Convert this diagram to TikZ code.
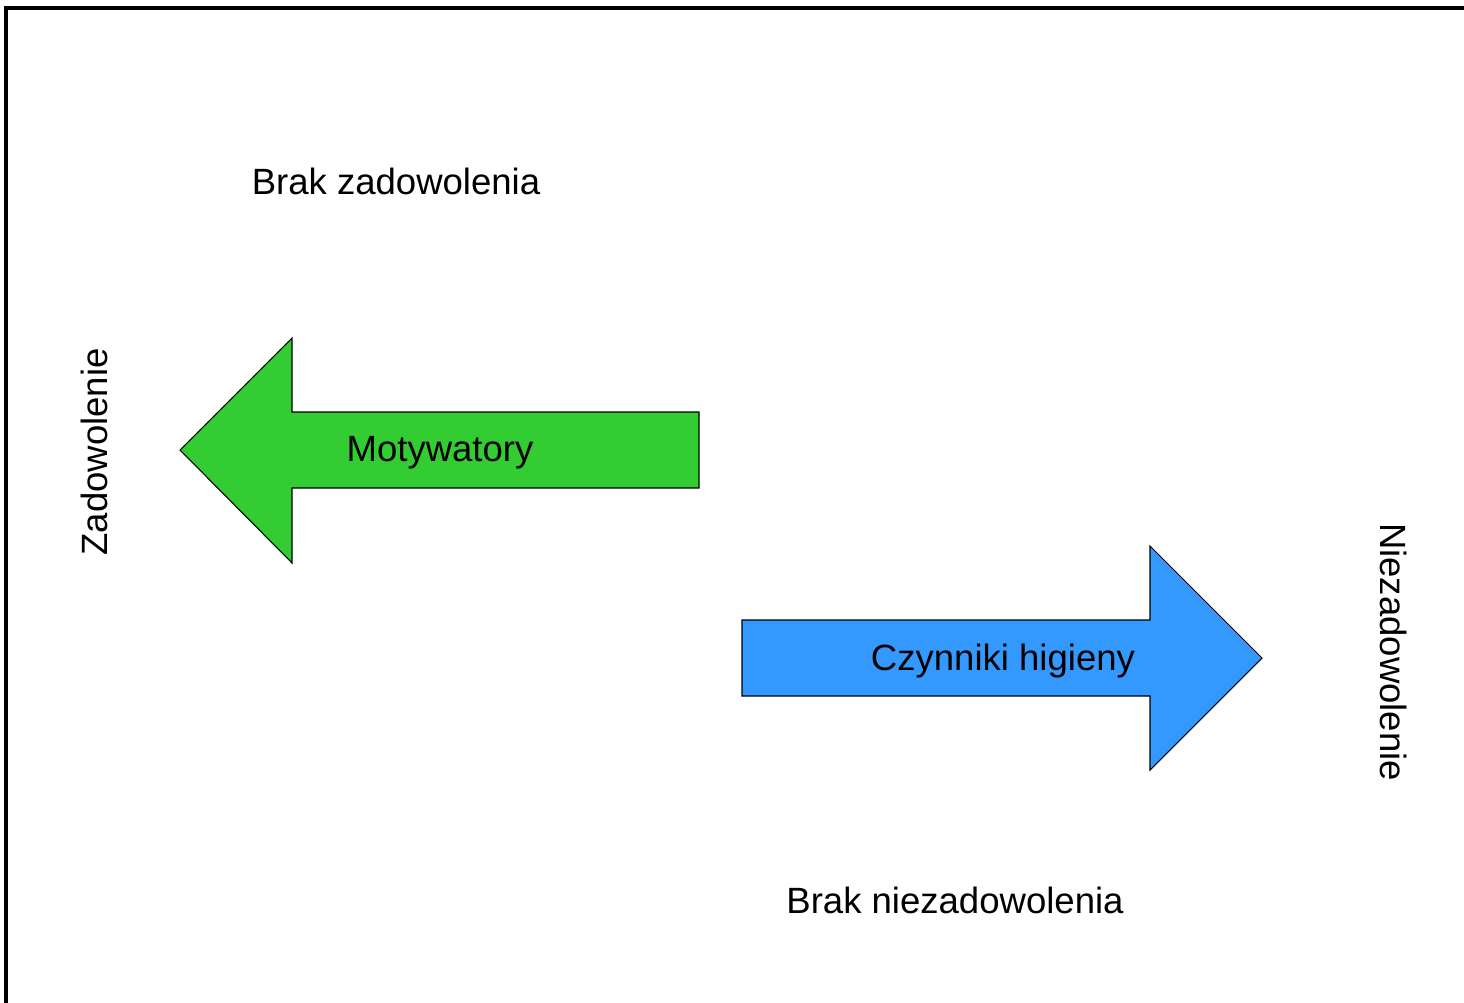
\documentclass[tikz,border=0pt]{standalone}
\usepackage{fontspec}
\setmainfont{Liberation Sans}
\definecolor{motgreen}{HTML}{33CC33}
\definecolor{higblue}{HTML}{3399FF}
\begin{document}
\begin{tikzpicture}[
  x=0.02cm, y=-0.02cm,
  lbltext/.style={font={\fontsize{20.8pt}{24pt}\selectfont}, inner sep=0pt},
  bigarrow/.style={draw=black, line width=0.6pt, line join=miter},
  frameline/.style={draw=black, line width=2.6pt}
]
\useasboundingbox (0,0) rectangle (1464,1002);
\draw[frameline] (1480,8) -- (6,8) -- (6,1020);
% motywatory, pointing left
\draw[bigarrow, fill=motgreen] (180,450) -- (292,338) -- (292,412) -- (699,412)
  -- (699,488) -- (292,488) -- (292,563) -- cycle;
% czynniki higieny, pointing right
\draw[bigarrow, fill=higblue] (1262,658) -- (1150,546) -- (1150,620) -- (742,620)
  -- (742,696) -- (1150,696) -- (1150,770) -- cycle;
\node[lbltext] (mot) at (440,453) {Motywatory};
\node[lbltext] (hig) at (1003,661) {Czynniki higieny};
\node[lbltext] (brakz) at (396,181) {Brak zadowolenia};
\node[lbltext] (brakn) at (955,900) {Brak niezadowolenia};
\node[lbltext, rotate=90] (zad) at (94,452) {Zadowolenie};
\node[lbltext, rotate=-90] (niez) at (1394,652) {Niezadowolenie};
\end{tikzpicture}
\end{document}
